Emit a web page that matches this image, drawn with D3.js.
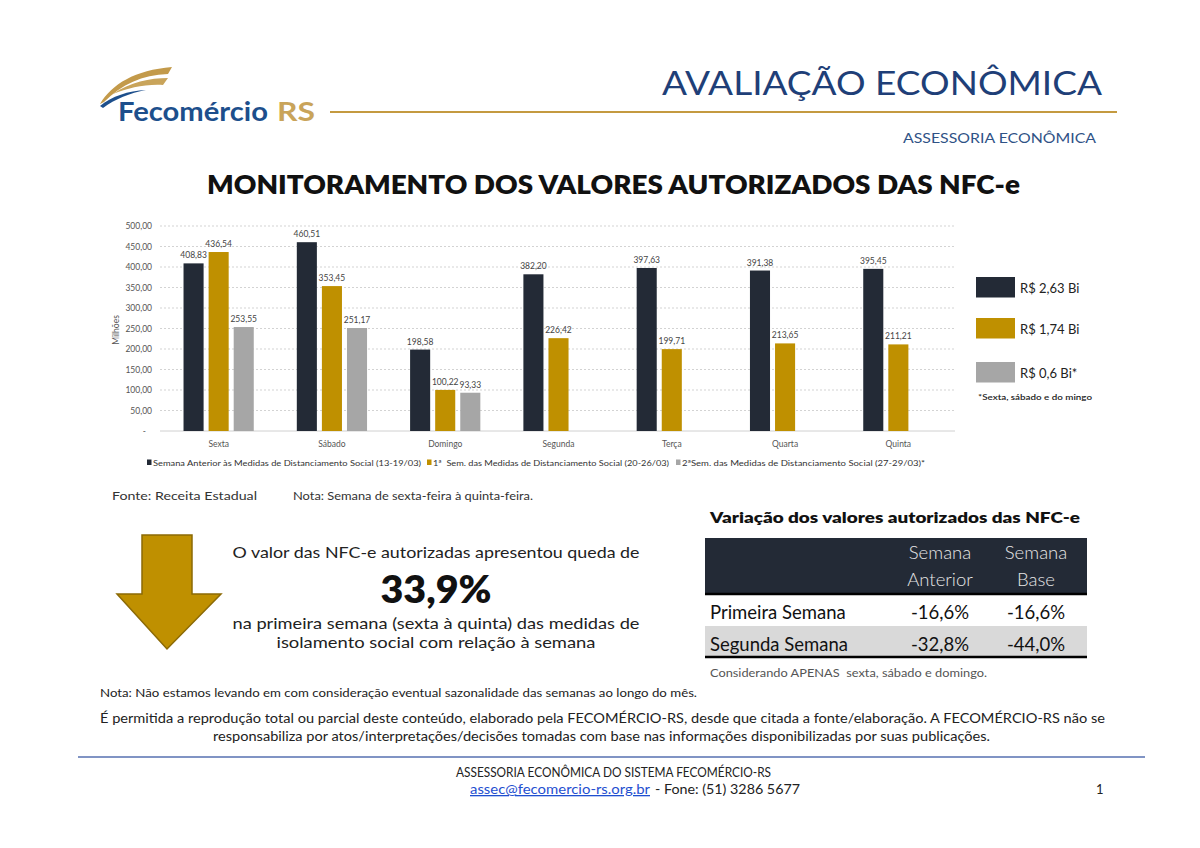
<!DOCTYPE html>
<html><head><meta charset="utf-8">
<script src="https://cdn.jsdelivr.net/npm/d3@7"></script>
<style>
html,body{margin:0;padding:0;background:#fff;}
svg{display:block;font-family:"Lato","Open Sans",sans-serif;}
text{white-space:pre;}
</style></head>
<body>
<svg id="c" width="1200" height="848"></svg>
<script>
// ---- data ----
const categories = ["Sexta","Sábado","Domingo","Segunda","Terça","Quarta","Quinta"];
const seriesNames = ["Semana Anterior às Medidas de Distanciamento Social (13-19/03)","1ª  Sem. das Medidas de Distanciamento Social (20-26/03)","2ªSem. das Medidas de Distanciamento Social (27-29/03)*"];
const semanaAnterior = [408.83,460.51,198.58,382.20,397.63,391.38,395.45];
const primeiraSemana = [436.54,353.45,100.22,226.42,199.71,213.65,211.21];
const segundaSemana = [253.55,251.17,93.33,null,null,null,null];
const yTicks = [0,50,100,150,200,250,300,350,400,450,500];
const totalsLabels = ["R$ 2,63 Bi","R$ 1,74 Bi","R$ 0,6 Bi*"];
const tableCols = [["Semana","Anterior"],["Semana","Base"]];
const tableRows = ["Primeira Semana","Segunda Semana"];
const tableVals = [["-16,6%","-16,6%"],["-32,8%","-44,0%"]];

const colors = ["#232a36","#bf9000","#a6a6a6"];
const series = [semanaAnterior, primeiraSemana, segundaSemana];

const svg = d3.select("#c");
const fmt = v => v.toFixed(2).replace(".", ",");

// ---- header ----
const logo = svg.append("g");
logo.append("path").attr("d","M100,104 C112,84 135,70 172,67 L168,74 C142,75 122,84 104,102 Z").attr("fill","#c39a4a");
logo.append("path").attr("d","M113,94 C130,82 150,78 168,78 L163,85 C145,84 128,88 113,94 Z").attr("fill","#c9a45a");
logo.append("path").attr("d","M100,106 C112,96 128,91 146,90 C130,93 115,99 103,108 Z").attr("fill","#1d4f8c");
logo.append("text").attr("x",118).attr("y",121).attr("font-size",27).attr("font-weight",700)
  .attr("fill","#1d4f8c").attr("textLength",150).attr("lengthAdjust","spacingAndGlyphs").text("Fecomércio");
logo.append("text").attr("x",277).attr("y",121).attr("font-size",27).attr("font-weight",700)
  .attr("fill","#c9a45a").attr("textLength",38).attr("lengthAdjust","spacingAndGlyphs").text("RS");
svg.append("line").attr("x1",330).attr("x2",1117).attr("y1",112).attr("y2",112).attr("stroke","#c49a40").attr("stroke-width",2);
svg.append("text").attr("x",662).attr("y",95).attr("font-size",32).attr("fill","#1f3f78").attr("font-weight",400)
  .attr("textLength",440).attr("lengthAdjust","spacingAndGlyphs").text("AVALIAÇÃO ECONÔMICA");
svg.append("text").attr("x",903).attr("y",143).attr("font-size",14).attr("fill","#2f5286")
  .attr("textLength",193).attr("lengthAdjust","spacingAndGlyphs").text("ASSESSORIA ECONÔMICA");
svg.append("text").attr("x",207).attr("y",194).attr("font-size",27).attr("font-weight",800).attr("fill","#111")
  .attr("textLength",813).attr("lengthAdjust","spacingAndGlyphs").text("MONITORAMENTO DOS VALORES AUTORIZADOS DAS NFC-e");

// ---- chart ----
const x0 = d3.scaleBand().domain(categories).range([162,955]).paddingInner(0.38).paddingOuter(0.19);
const x1 = d3.scaleBand().domain([0,1,2]).range([0,x0.bandwidth()]).paddingInner(0.2);
const y = d3.scaleLinear().domain([0,500]).range([431,226]);

const grid = svg.append("g");
grid.selectAll("line").data(yTicks.filter(t=>t>0)).join("line")
  .attr("x1",160).attr("x2",955).attr("y1",d=>y(d)).attr("y2",d=>y(d))
  .attr("stroke","#c8c8c8").attr("stroke-width",0.8).attr("stroke-dasharray","2,2");
svg.append("line").attr("x1",160).attr("x2",955).attr("y1",y(0)).attr("y2",y(0)).attr("stroke","#d0d0d0").attr("stroke-width",1);

const yAxis = d3.axisLeft(y).tickValues(yTicks).tickSize(0).tickPadding(0)
  .tickFormat(d => d===0 ? "-" : fmt(d));
const ya = svg.append("g").attr("transform","translate(152,0)").call(yAxis);
ya.select(".domain").remove();
ya.selectAll("text").attr("font-size",8.5).attr("fill","#555").attr("font-family","Lato, sans-serif");
ya.selectAll(".tick").filter(d=>d===0).select("text").attr("dx",-6);

svg.append("text").attr("transform","translate(119,330) rotate(-90)").attr("text-anchor","middle")
  .attr("font-size",8.5).attr("fill","#555").text("Milhões");

const groups = svg.append("g").selectAll("g").data(categories).join("g")
  .attr("transform",d=>`translate(${x0(d)},0)`);
series.forEach((s,si)=>{
  groups.append("rect").filter((d,i)=>s[i]!==null)
    .attr("x",x1(si)).attr("width",x1.bandwidth())
    .attr("y",(d,i)=>y(s[i])).attr("height",(d,i)=>y(0)-y(s[i]))
    .attr("fill",colors[si]);
});
series.forEach((s,si)=>{
  groups.filter((d,i)=>s[i]!==null).append("text")
    .attr("x",x1(si)+x1.bandwidth()/2)
    .attr("y",(d)=>y(s[categories.indexOf(d)])-5)
    .attr("text-anchor","middle").attr("font-size",8.5).attr("fill","#444")
    .text(d=>fmt(s[categories.indexOf(d)]));
});
const xAxis = d3.axisBottom(x0).tickSize(0).tickPadding(0);
const xa = svg.append("g").attr("transform","translate(0,447)").call(xAxis);
xa.select(".domain").remove();
xa.selectAll("text").attr("font-size",8.5).attr("fill","#555").attr("dy",0).attr("font-family","Lato, sans-serif");

// bottom legend
const legX = [[152,421],[432,669],[681,925]];
const leg = svg.append("g");
seriesNames.forEach((n,i)=>{
  leg.append("rect").attr("x",legX[i][0]-5).attr("y",459.5).attr("width",4.5).attr("height",5.5).attr("fill",colors[i]);
  leg.append("text").attr("x",legX[i][0]+1).attr("y",466).attr("font-size",8).attr("fill","#333")
    .attr("textLength",legX[i][1]-legX[i][0]-1).attr("lengthAdjust","spacingAndGlyphs").text(n);
});

// right legend
const rl = svg.append("g");
const boxY = [277,318,362];
totalsLabels.forEach((t,i)=>{
  rl.append("rect").attr("x",976).attr("y",boxY[i]).attr("width",39).attr("height",20.5).attr("fill",colors[i]);
  rl.append("text").attr("x",1020).attr("y",boxY[i]+16).attr("font-size",13).attr("fill","#222").text(t);
});
rl.append("text").attr("x",978).attr("y",400).attr("font-size",8).attr("fill","#222").attr("font-weight",600)
  .attr("textLength",114).attr("lengthAdjust","spacingAndGlyphs").text("*Sexta, sábado e do mingo");

svg.append("text").attr("x",112).attr("y",500).attr("font-size",12).attr("fill","#333")
  .attr("textLength",145).attr("lengthAdjust","spacingAndGlyphs").text("Fonte: Receita Estadual");
svg.append("text").attr("x",293).attr("y",500).attr("font-size",11.5).attr("fill","#333")
  .attr("textLength",240).attr("lengthAdjust","spacingAndGlyphs").text("Nota: Semana de sexta-feira à quinta-feira.");

// ---- arrow + text ----
svg.append("path").attr("d","M142,535 L192,535 L192,594 L221,594 L167,649 L117,594 L142,594 Z")
  .attr("fill","#bf9000").attr("stroke","#8c6a05").attr("stroke-width",1.5);
const cx = 436;
svg.append("text").attr("x",cx).attr("y",558).attr("text-anchor","middle").attr("font-size",15).attr("fill","#222")
  .attr("textLength",407).attr("lengthAdjust","spacingAndGlyphs").text("O valor das NFC-e autorizadas apresentou queda de");
svg.append("text").attr("x",cx).attr("y",603).attr("text-anchor","middle").attr("font-size",38).attr("font-weight",800).attr("fill","#111")
  .attr("textLength",111).attr("lengthAdjust","spacingAndGlyphs").text("33,9%");
svg.append("text").attr("x",cx).attr("y",629).attr("text-anchor","middle").attr("font-size",15).attr("fill","#222")
  .attr("textLength",407).attr("lengthAdjust","spacingAndGlyphs").text("na primeira semana (sexta à quinta) das medidas de");
svg.append("text").attr("x",cx).attr("y",648).attr("text-anchor","middle").attr("font-size",15).attr("fill","#222")
  .attr("textLength",319).attr("lengthAdjust","spacingAndGlyphs").text("isolamento social com relação à semana");

// ---- table ----
svg.append("text").attr("x",710).attr("y",523).attr("font-size",15.5).attr("font-weight",800).attr("fill","#111")
  .attr("textLength",370).attr("lengthAdjust","spacingAndGlyphs").text("Variação dos valores autorizados das NFC-e");
svg.append("rect").attr("x",705).attr("y",538).attr("width",382).attr("height",56).attr("fill","#232a36");
svg.append("rect").attr("x",705).attr("y",626).attr("width",382).attr("height",30).attr("fill","#d9d9d9");
svg.append("line").attr("x1",705).attr("x2",1087).attr("y1",594).attr("y2",594).attr("stroke","#000").attr("stroke-width",2.5);
svg.append("line").attr("x1",705).attr("x2",1087).attr("y1",657).attr("y2",657).attr("stroke","#000").attr("stroke-width",2.5);
const colX = [940,1036];
tableCols.forEach((c,i)=>{
  c.forEach((t,j)=>{
    svg.append("text").attr("x",colX[i]).attr("y",559+j*27).attr("text-anchor","middle").attr("font-size",18.5)
      .attr("fill","#e6e6e6").attr("font-weight",300).text(t);
  });
});
tableRows.forEach((r,i)=>{
  const yy = 619 + i*32;
  svg.append("text").attr("x",710).attr("y",yy).attr("font-size",18.5).attr("fill","#111").text(r);
  tableVals[i].forEach((v,j)=>{
    svg.append("text").attr("x",colX[j]).attr("y",yy).attr("text-anchor","middle").attr("font-size",18.5).attr("fill","#111").text(v);
  });
});
svg.append("text").attr("x",710).attr("y",677).attr("font-size",10.5).attr("fill","#555")
  .attr("textLength",277).attr("lengthAdjust","spacingAndGlyphs").text("Considerando APENAS  sexta, sábado e domingo.");

// ---- footer ----
svg.append("text").attr("x",100).attr("y",697).attr("font-size",10.5).attr("fill","#222")
  .attr("textLength",597).attr("lengthAdjust","spacingAndGlyphs").text("Nota: Não estamos levando em com consideração eventual sazonalidade das semanas ao longo do mês.");
svg.append("text").attr("x",100).attr("y",723).attr("font-size",12.5).attr("fill","#222")
  .attr("textLength",1005).attr("lengthAdjust","spacingAndGlyphs").text("É permitida a reprodução total ou parcial deste conteúdo, elaborado pela FECOMÉRCIO-RS, desde que citada a fonte/elaboração. A FECOMÉRCIO-RS não se");
svg.append("text").attr("x",213).attr("y",741).attr("font-size",12.5).attr("fill","#222")
  .attr("textLength",777).attr("lengthAdjust","spacingAndGlyphs").text("responsabiliza por atos/interpretações/decisões tomadas com base nas informações disponibilizadas por suas publicações.");
svg.append("line").attr("x1",78).attr("x2",1145).attr("y1",757).attr("y2",757).attr("stroke","#8094c4").attr("stroke-width",2);
svg.append("text").attr("x",456).attr("y",777).attr("font-size",13).attr("fill","#222")
  .attr("textLength",315).attr("lengthAdjust","spacingAndGlyphs").text("ASSESSORIA ECONÔMICA DO SISTEMA FECOMÉRCIO-RS");
svg.append("text").attr("x",470).attr("y",794).attr("font-size",13).attr("fill","#1f4fd0").attr("text-decoration","underline")
  .attr("textLength",180).attr("lengthAdjust","spacingAndGlyphs").text("assec@fecomercio-rs.org.br");
svg.append("text").attr("x",655).attr("y",794).attr("font-size",13).attr("fill","#222")
  .attr("textLength",145).attr("lengthAdjust","spacingAndGlyphs").text("- Fone: (51) 3286 5677");
svg.append("text").attr("x",1096).attr("y",794).attr("font-size",13).attr("fill","#222").text("1");
</script>
</body></html>
